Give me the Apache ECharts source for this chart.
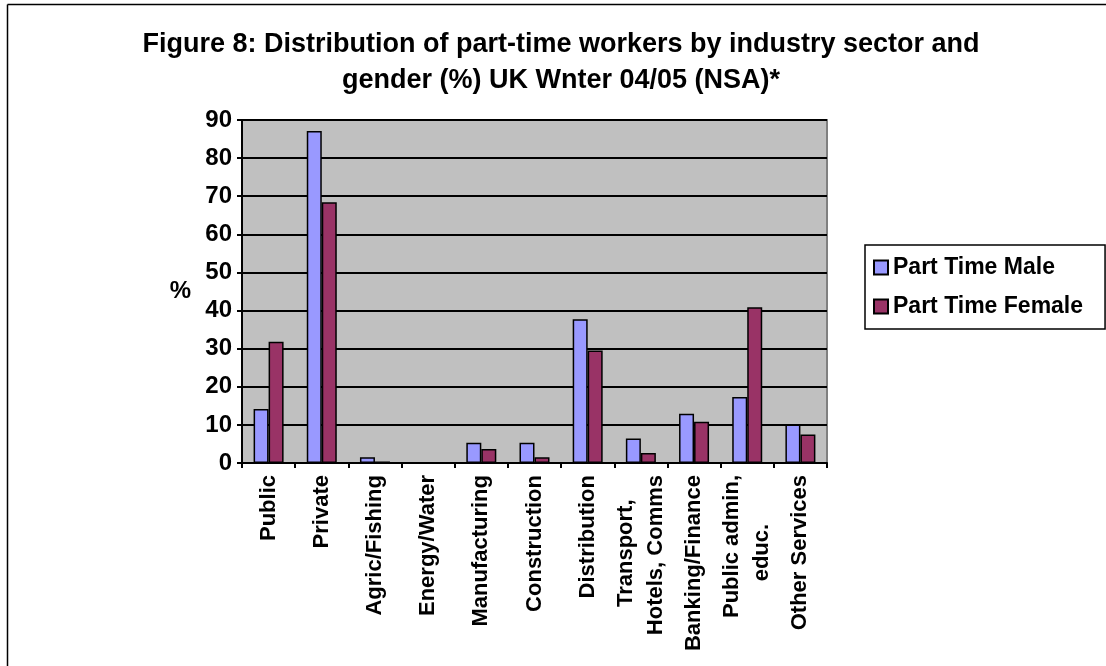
<!DOCTYPE html>
<html>
<head>
<meta charset="utf-8">
<script src="https://cdn.jsdelivr.net/npm/echarts@6/dist/echarts.min.js"></script>
<style>
html,body{margin:0;padding:0;background:#fff;}
#chart{width:1106px;height:666px;}
</style>
</head>
<body>
<div id="chart"></div>
<script>
var categories = ['Public','Private','Agric/Fishing','Energy/Water','Manufacturing','Construction','Distribution','Transport,    \nHotels, Comms','Banking/Finance','Public admin,\neduc.        ','Other Services'];
var maleValues = [14.2, 87.1, 1.5, 0, 5.3, 5.3, 37.7, 6.4, 12.9, 17.3, 10.1];
var femaleValues = [31.8, 68.4, 0.4, 0, 3.7, 1.5, 29.5, 2.6, 10.8, 40.9, 7.5];
var yTicks = [0, 90, 10];
var seriesNames = ['Part Time Male', 'Part Time Female'];

var FONT = '"Liberation Sans", Arial, sans-serif';
var chart = echarts.init(document.getElementById('chart'), null, {renderer: 'canvas'});
chart.setOption({
  backgroundColor: '#ffffff',
  animation: false,
  title: {
    text: 'Figure 8: Distribution of part-time workers by industry sector and\ngender (%) UK Wnter 04/05 (NSA)*',
    left: 556,
    textAlign: 'center',
    top: 22,
    textStyle: {fontFamily: FONT, fontSize: 27, fontWeight: 'bold', color: '#000', lineHeight: 36}
  },
  legend: {
    orient: 'vertical',
    left: 865,
    top: 245,
    padding: [11, 22, 11, 8],
    itemGap: 16,
    itemWidth: 14,
    itemHeight: 14,
    borderColor: '#000',
    borderWidth: 1.5,
    icon: 'rect',
    data: seriesNames,
    textStyle: {fontFamily: FONT, fontSize: 23, fontWeight: 'bold', color: '#000'}
  },
  grid: {
    left: 242, right: 279, top: 120, bottom: 203,
    show: true,
    backgroundColor: '#c0c0c0',
    borderColor: '#808080',
    borderWidth: 2
  },
  xAxis: {
    type: 'category',
    data: categories,
    axisLine: {lineStyle: {color: '#000', width: 2}},
    axisTick: {show: true, length: 5, lineStyle: {color: '#000', width: 2}},
    axisLabel: {
      rotate: 90, interval: 0, margin: 12,
      fontFamily: FONT, fontSize: 22, fontWeight: 'bold', color: '#000', lineHeight: 30
    }
  },
  yAxis: {
    type: 'value',
    min: yTicks[0], max: yTicks[1], interval: yTicks[2],
    name: '%',
    nameLocation: 'middle',
    nameRotate: 0,
    nameGap: 51,
    nameTextStyle: {fontFamily: FONT, fontSize: 24, fontWeight: 'bold', color: '#000'},
    axisLine: {show: true, lineStyle: {color: '#000', width: 2}},
    axisTick: {show: true, length: 5, lineStyle: {color: '#000', width: 2}},
    axisLabel: {margin: 10, fontFamily: FONT, fontSize: 24, fontWeight: 'bold', color: '#000'},
    splitLine: {show: true, lineStyle: {color: '#000', width: 2}}
  },
  series: [
    {
      name: seriesNames[0], type: 'bar', data: maleValues,
      barWidth: 15, barGap: '0%',
      itemStyle: {color: '#9999ff', borderColor: '#000', borderWidth: 1.5}
    },
    {
      name: seriesNames[1], type: 'bar', data: femaleValues,
      barWidth: 15, barGap: '0%',
      itemStyle: {color: '#993366', borderColor: '#000', borderWidth: 1.5}
    }
  ],
  graphic: [
    {type: 'line', shape: {x1: 7.5, y1: 4.5, x2: 1106, y2: 4.5}, style: {stroke: '#000', lineWidth: 1.5}},
    {type: 'line', shape: {x1: 7.5, y1: 4.5, x2: 7.5, y2: 666}, style: {stroke: '#000', lineWidth: 1.5}}
  ]
});
</script>
</body>
</html>
